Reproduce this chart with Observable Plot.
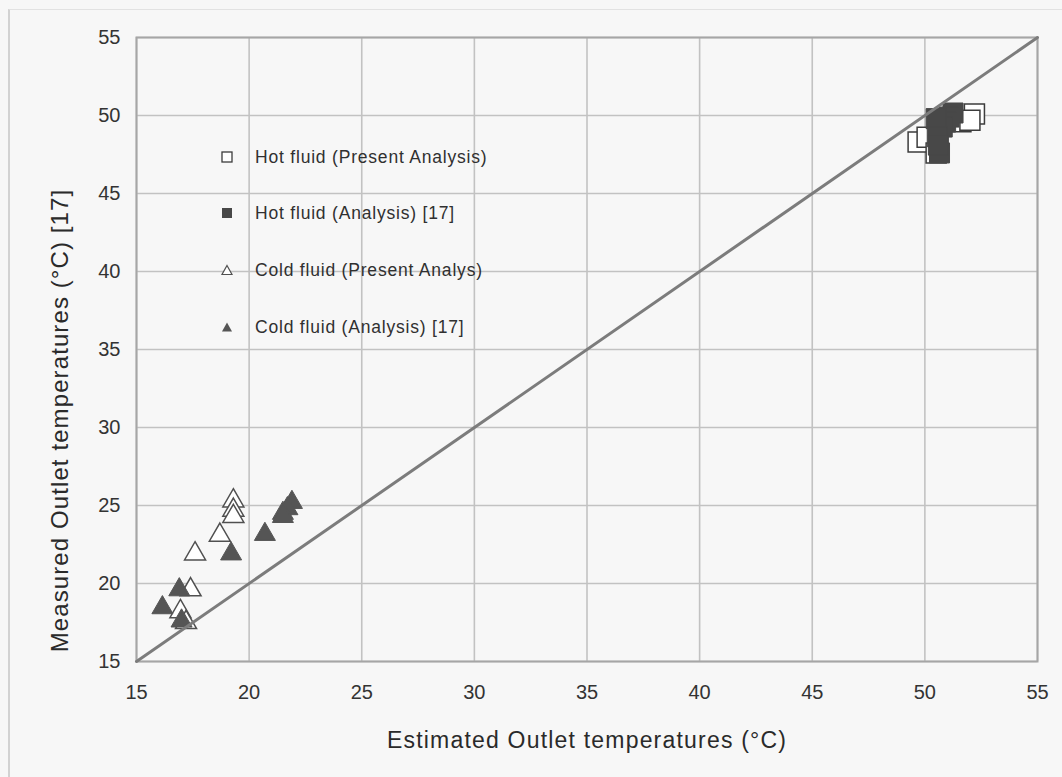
<!DOCTYPE html>
<html><head><meta charset="utf-8">
<script src="https://cdn.jsdelivr.net/npm/d3@7"></script>
<script src="https://cdn.jsdelivr.net/npm/@observablehq/plot@0.6"></script>
<style>
body{margin:0;background:#f7f7f7;}
#wrap{position:relative;width:1062px;height:777px;overflow:hidden;background:#f7f7f7;}
#border{position:absolute;left:8px;top:9px;width:3000px;height:3000px;border-left:2px solid #d2d2d2;border-top:1px solid #e2e2e2;}
#chart{position:absolute;left:0;top:0;}
.lg{position:absolute;font-family:"Liberation Sans",Arial,sans-serif;font-size:17.5px;letter-spacing:0.8px;color:#303030;white-space:nowrap;line-height:20px;}
.lg svg{position:absolute;}
</style></head>
<body><div id="wrap"><div id="border"></div><div id="chart"></div></div>
<script>
// tick values
const xTicks = [15, 20, 25, 30, 35, 40, 45, 50, 55];
const yTicks = [15, 20, 25, 30, 35, 40, 45, 50, 55];

// Hot fluid (Present Analysis) — open squares
const hotPresentX = [49.7, 50.1, 52.2, 51.6, 52.0, 50.5];
const hotPresentY = [48.3, 48.6, 50.1, 49.6, 49.7, 47.6];

// Hot fluid (Analysis) [17] — filled squares
const hotAnalysisX = [51.25, 51.07, 50.92, 50.77, 50.5, 50.65, 50.55, 50.6];
const hotAnalysisY = [50.16, 49.9, 49.58, 49.26, 49.8, 47.6, 48.64, 48.1];

// Cold fluid (Present Analys) — open triangles
const coldPresentX = [19.3, 19.3, 19.3, 18.7, 17.6, 17.4, 16.95, 17.2];
const coldPresentY = [25.3, 24.7, 24.3, 23.1, 21.9, 19.6, 18.2, 17.5];

// Cold fluid (Analysis) [17] — filled triangles
const coldAnalysisX = [21.9, 21.7, 21.5, 21.5, 20.7, 19.2, 16.9, 16.15, 17.0];
const coldAnalysisY = [25.2, 24.8, 24.5, 24.3, 23.15, 21.9, 19.6, 18.45, 17.6];

// parity line
const diagX = [15, 55];
const diagY = [15, 55];

const legendLabels = ["Hot fluid (Present Analysis)", "Hot fluid (Analysis) [17]", "Cold fluid (Present Analys)", "Cold fluid (Analysis) [17]"];
const xLabel = "Estimated Outlet temperatures (°C)";
const yLabel = "Measured Outlet temperatures (°C) [17]";

const pts = (xs, ys) => xs.map((x, i) => ({x, y: ys[i]}));
const hotP = pts(hotPresentX, hotPresentY);
const hotA = pts(hotAnalysisX, hotAnalysisY);
const coldP = pts(coldPresentX, coldPresentY);
const coldA = pts(coldAnalysisX, coldAnalysisY);
const diag = pts(diagX, diagY);

const font = "Liberation Sans, Arial, sans-serif";
const chart = Plot.plot({
  width: 1062, height: 777,
  marginLeft: 136, marginRight: 25, marginTop: 37, marginBottom: 116,
  x: {domain: [15, 55]},
  y: {domain: [15, 55]},
  style: {background: "transparent", fontFamily: font, fontSize: "20px", color: "#333333"},
  marks: [
    Plot.gridX(xTicks, {stroke: "#c2c2c2", strokeOpacity: 1, strokeWidth: 1.6}),
    Plot.gridY(yTicks, {stroke: "#c2c2c2", strokeOpacity: 1, strokeWidth: 1.6}),
    Plot.frame({stroke: "#a6a6a6", strokeWidth: 2}),
    Plot.dot(hotP, {x: "x", y: "y", symbol: "square", r: 11.3, fill: "white", stroke: "#3c3c3c", strokeWidth: 1.5}),
    Plot.dot(hotA, {x: "x", y: "y", symbol: "square", r: 11.3, fill: "#484848", stroke: "#484848", strokeWidth: 1}),
    Plot.dot(coldP, {x: "x", y: "y", symbol: "triangle", r: 7.8, fill: "white", stroke: "#505050", strokeWidth: 1.5}),
    Plot.dot(coldA, {x: "x", y: "y", symbol: "triangle", r: 7.8, fill: "#555555", stroke: "#555555", strokeWidth: 1}),
    Plot.line(diag, {x: "x", y: "y", stroke: "#7c7c7c", strokeWidth: 3}),
    Plot.axisX(xTicks, {tickSize: 0, tickPadding: 23, label: null, fontSize: 20}),
    Plot.axisY(yTicks, {tickSize: 0, tickPadding: 16, label: null, fontSize: 20}),
    Plot.text([xLabel], {frameAnchor: "bottom", textAnchor: "middle", dy: 79, lineAnchor: "middle", fontSize: 23, fill: "#2a2a2a"}),
    Plot.text([yLabel], {frameAnchor: "left", textAnchor: "middle", rotate: -90, dx: -76, dy: 71, lineAnchor: "middle", fontSize: 24, fill: "#2a2a2a"})
  ]
});
document.getElementById("chart").appendChild(chart);
chart.querySelectorAll("text").forEach(t => {
  const s = t.textContent;
  if (s === xLabel) t.setAttribute("letter-spacing", "1.2px");
  if (s === yLabel) t.setAttribute("letter-spacing", "1.1px");
});

// legend (inside plot area)
const legendTops = [147, 203, 260, 317];
const legendSymbols = [
  '<rect x="2" y="2" width="10" height="10" fill="white" stroke="#3c3c3c" stroke-width="1.3"/>',
  '<rect x="2" y="2" width="10" height="10" fill="#484848"/>',
  '<path d="M7,2.5 L12,11.5 L2,11.5 Z" fill="white" stroke="#505050" stroke-width="1.2"/>',
  '<path d="M7,2.5 L12,11.5 L2,11.5 Z" fill="#555555"/>'
];
const wrap = document.getElementById("wrap");
legendLabels.forEach((t, i) => {
  const d = document.createElement("div");
  d.className = "lg";
  d.style.left = "255px";
  d.style.top = legendTops[i] + "px";
  d.innerHTML = '<svg width="14" height="14" viewBox="0 0 14 14" style="left:-35px;top:3px">' + legendSymbols[i] + '</svg>';
  d.appendChild(document.createTextNode(t));
  wrap.appendChild(d);
});
</script>
</body></html>
